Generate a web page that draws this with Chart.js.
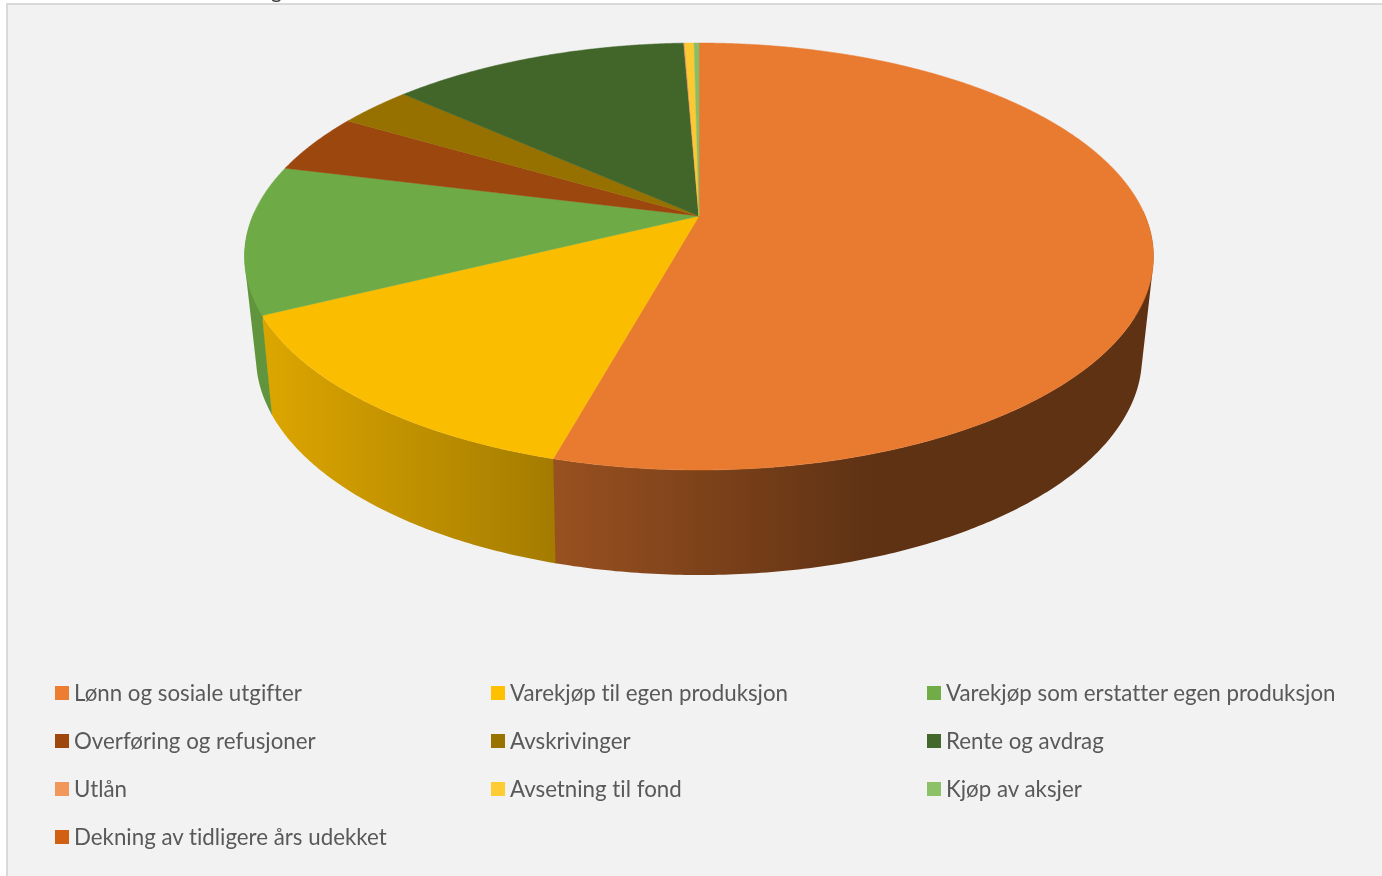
<!DOCTYPE html>
<html>
<head>
<meta charset="utf-8">
<title>Utgifter</title>
<script src="https://cdn.jsdelivr.net/npm/chart.js@4/dist/chart.umd.js"></script>
<style>
  html, body { margin: 0; height: 100%; background: #fff; overflow: hidden; }
  #panel { position: absolute; left: 6px; top: 3px; width: 1400px; height: 900px; background: #f2f2f2; border: 2px solid #d9d9d9; }
  #myChart { position: absolute; left: 0; top: 0; }
  #title { position: absolute; left: 271px; top: -23px; font: 21px Lato, sans-serif; color: #404040; }
  .legend-item { position: absolute; font: 22.3px Lato, sans-serif; font-variant-ligatures: none; color: #595959; white-space: nowrap; line-height: 26px; height: 26px; }
  .legend-item i { position: absolute; left: 0; top: 6px; width: 14px; height: 14px; }
  .legend-item span { position: absolute; left: 19px; top: 0; }
</style>
</head>
<body>
<div id="panel"></div>
<canvas id="myChart" width="1382" height="876"></canvas>
<div id="title">g</div>
<div id="legend"></div>
<script>
const categories = [
  "Lønn og sosiale utgifter",
  "Varekjøp til egen produksjon",
  "Varekjøp som erstatter egen produksjon",
  "Overføring og refusjoner",
  "Avskrivinger",
  "Rente og avdrag",
  "Utlån",
  "Avsetning til fond",
  "Kjøp av aksjer",
  "Dekning av tidligere års udekket"
];
const shares = [54.3, 13.4, 11.2, 4.55, 3.15, 12.75, 0.05, 0.39, 0.21, 0];
const colors = ["#ed7d31", "#ffc000", "#70ad47", "#9e480e", "#997300", "#43682b", "#f1975a", "#ffcd33", "#8cc168", "#d26012"];

// top and bottom rims of the disc, boost shifts the hub towards the far side
const topRim = { cy: 256.5, rx: 454.5, ry: 213.5, boost: -0.19 };
const bottomRim = { cy: 357, rx: 443, ry: 218, boost: -0.2 };

function project(rim, cx, angle) {
  const u = Math.cos(angle), v = Math.sin(angle), b = rim.boost;
  const d = 1 + b * v;
  return {
    x: cx + rim.rx * u * Math.sqrt(1 - b * b) / d,
    y: rim.cy + rim.ry * (v + b) / d
  };
}

function rgb(hex, k) {
  const n = parseInt(hex.slice(1), 16);
  return `rgb(${Math.round((n >> 16) * k)},${Math.round(((n >> 8) & 255) * k)},${Math.round((n & 255) * k)})`;
}

function wallPaint(ctx, hex) {
  const g = ctx.createLinearGradient(272, 0, 870, 0);
  g.addColorStop(0, rgb(hex, 0.86));
  g.addColorStop(1, rgb(hex, 0.40));
  return g;
}

function anglesOf(start, end, step) {
  const list = [];
  const n = Math.max(2, Math.ceil((end - start) / step));
  for (let i = 0; i <= n; i++) list.push(start + (end - start) * i / n);
  return list;
}

function insideTop(p, cx) {
  const dx = (p.x - cx) / topRim.rx, dy = (p.y - topRim.cy) / topRim.ry;
  return dx * dx + dy * dy < 0.97;
}

const disc3d = {
  id: "disc3d",
  beforeDatasetsDraw(chart) {
    const ctx = chart.ctx;
    const arcs = chart.getDatasetMeta(0).data;
    const fills = chart.data.datasets[0].backgroundColor;
    const cx = arcs[0].x;
    ctx.save();

    // side wall: one path of same-wound quads per slice, the far side is skipped.
    // each piece runs a hair past its end so the next one covers the seam
    arcs.forEach((arc, i) => {
      if (arc.endAngle - arc.startAngle <= 0) return;
      const steps = anglesOf(arc.startAngle, arc.endAngle + 0.004, 0.01);
      ctx.beginPath();
      let any = false;
      for (let s = 0; s < steps.length - 1; s++) {
        const a = project(topRim, cx, steps[s]), b = project(topRim, cx, steps[s + 1]);
        const c = project(bottomRim, cx, steps[s + 1]), d = project(bottomRim, cx, steps[s]);
        if (insideTop(c, cx) && insideTop(d, cx)) continue;
        const area = (b.x - a.x) * (c.y - a.y) - (b.y - a.y) * (c.x - a.x);
        const quad = area > 0 ? [a, b, c, d] : [d, c, b, a];
        ctx.moveTo(quad[0].x, quad[0].y);
        quad.slice(1).forEach(p => ctx.lineTo(p.x, p.y));
        ctx.closePath();
        any = true;
      }
      if (any) {
        ctx.fillStyle = wallPaint(ctx, fills[i]);
        ctx.fill("nonzero");
      }
    });

    // top faces
    const hub = { x: cx, y: topRim.cy + topRim.ry * topRim.boost };
    arcs.forEach((arc, i) => {
      if (arc.endAngle - arc.startAngle <= 0) return;
      ctx.beginPath();
      ctx.moveTo(hub.x, hub.y);
      anglesOf(arc.startAngle, arc.endAngle, 0.005).forEach(t => {
        const p = project(topRim, cx, t);
        ctx.lineTo(p.x, p.y);
      });
      ctx.closePath();
      const face = rgb(fills[i], 0.985);
      ctx.fillStyle = face;
      ctx.strokeStyle = face;
      ctx.lineWidth = 0.5;
      ctx.fill();
      ctx.stroke();
    });

    ctx.restore();
    return false;
  }
};

const chart = new Chart(document.getElementById("myChart").getContext("2d"), {
  type: "pie",
  data: {
    labels: categories,
    datasets: [{ data: shares, backgroundColor: colors, borderWidth: 0 }]
  },
  options: {
    responsive: false,
    animation: false,
    layout: { padding: { left: 16 } },
    plugins: { legend: { display: false }, tooltip: { enabled: false } }
  },
  plugins: [disc3d]
});

// legend in three fixed columns
const legendBox = document.getElementById("legend");
Chart.overrides.pie.plugins.legend.labels.generateLabels(chart).forEach((item, i) => {
  const el = document.createElement("div");
  el.className = "legend-item";
  el.style.left = (55 + 436 * (i % 3)) + "px";
  el.style.top = (680 + 48 * Math.floor(i / 3)) + "px";
  const box = document.createElement("i");
  box.style.background = item.fillStyle;
  const text = document.createElement("span");
  text.textContent = item.text;
  el.append(box, text);
  legendBox.append(el);
});
</script>
</body>
</html>
